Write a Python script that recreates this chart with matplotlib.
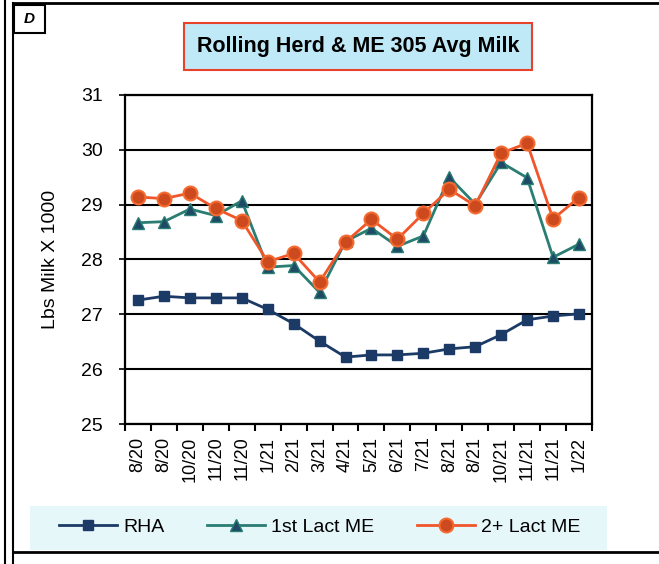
import matplotlib.pyplot as plt
from matplotlib.lines import Line2D
from matplotlib.patches import Rectangle
from matplotlib.ticker import FixedLocator

plt.rcParams['font.family'] = ['Liberation Sans', 'DejaVu Sans']

# data
months = ['8/20', '8/20', '10/20', '11/20', '11/20', '1/21', '2/21', '3/21', '4/21',
          '5/21', '6/21', '7/21', '8/21', '8/21', '10/21', '11/21', '11/21', '1/22']
rha = [27.26, 27.33, 27.30, 27.30, 27.30, 27.09, 26.83, 26.51, 26.22,
       26.26, 26.26, 26.29, 26.37, 26.41, 26.63, 26.90, 26.97, 27.01]
lact1 = [28.67, 28.69, 28.92, 28.80, 29.07, 27.86, 27.89, 27.40, 28.33,
         28.57, 28.24, 28.43, 29.50, 29.01, 29.77, 29.49, 28.04, 28.28]
lact2 = [29.14, 29.11, 29.21, 28.93, 28.71, 27.96, 28.11, 27.59, 28.32,
         28.73, 28.37, 28.84, 29.28, 28.98, 29.94, 30.12, 28.74, 29.13]

fig = plt.figure(figsize=(6.59, 5.64), dpi=100)
ax = fig.add_axes([0.1897, 0.2482, 0.7086, 0.5834])

x = list(range(len(months)))
ax.plot(x, rha, color='#1b3a66', lw=2, marker='s', ms=7,
        mfc='#1b3a66', mec='#1b3a66', label='RHA', zorder=3)
ax.plot(x, lact1, color='#2a7d73', lw=2, marker='^', ms=9,
        mfc='#1e4a66', mec='#2a7d73', label='1st Lact ME', zorder=3)
ax.plot(x, lact2, color='#f0562a', lw=2, marker='o', ms=10,
        mfc='#cc4a1e', mec='#f46a30', mew=1.5, label='2+ Lact ME', zorder=4)

ax.set_ylim(25, 31)
ax.set_yticks(range(25, 32))
ax.set_xlim(-0.5, len(months) - 0.5)
ax.set_xticks(x)
ax.set_xticklabels(months, rotation=90, fontsize=13)
ax.xaxis.set_minor_locator(FixedLocator([i + 0.5 for i in range(-1, len(months))]))
ax.tick_params(axis='x', which='major', length=0, pad=9)
ax.tick_params(axis='x', which='minor', length=5, width=1.5, direction='out')
ax.tick_params(axis='y', labelsize=14, length=4, width=1.2, pad=12)
ax.grid(axis='y', color='black', lw=1.5)
for s in ax.spines.values():
    s.set_linewidth(1.6)
ax.set_ylabel('Lbs Milk X 1000', fontsize=14, labelpad=16)

# title box
fig.text(0.543, 0.917, 'Rolling Herd & ME 305 Avg Milk', ha='center', va='center',
         fontsize=15.5, fontweight='bold',
         bbox=dict(boxstyle='square,pad=0.6', facecolor='#bfe9f6',
                   edgecolor='#e8432a', lw=1.5))

# panel letter box
fig.add_artist(Rectangle((14 / 659, 1 - 33 / 564), 31 / 659, 28 / 564,
                         transform=fig.transFigure, facecolor='white',
                         edgecolor='black', lw=1.5))
fig.text(29.5 / 659, 1 - 19 / 564, 'D', ha='center', va='center',
         fontsize=11, fontweight='bold', fontstyle='italic')

# outer frame lines
fig.add_artist(Line2D([5 / 659, 5 / 659], [0, 1], transform=fig.transFigure, color='black', lw=1.5))
fig.add_artist(Line2D([13 / 659, 13 / 659], [0, 1 - 3 / 564], transform=fig.transFigure, color='black', lw=1.5))
fig.add_artist(Line2D([13 / 659, 1], [1 - 3 / 564, 1 - 3 / 564], transform=fig.transFigure, color='black', lw=2))
fig.add_artist(Line2D([13 / 659, 1], [1 - 552 / 564, 1 - 552 / 564], transform=fig.transFigure, color='black', lw=2))

# legend band
fig.add_artist(Rectangle((30 / 659, 1 - 550 / 564), 577 / 659, 44 / 564,
                         transform=fig.transFigure, facecolor='#e6f7fa',
                         edgecolor='none', zorder=0))
fig.legend(loc='center', bbox_to_anchor=(0.485, 1 - 527 / 564), ncol=3,
           frameon=False, fontsize=14, handlelength=3.0, handletextpad=0.3,
           columnspacing=2.2)

fig.savefig('out.png', dpi=100)
